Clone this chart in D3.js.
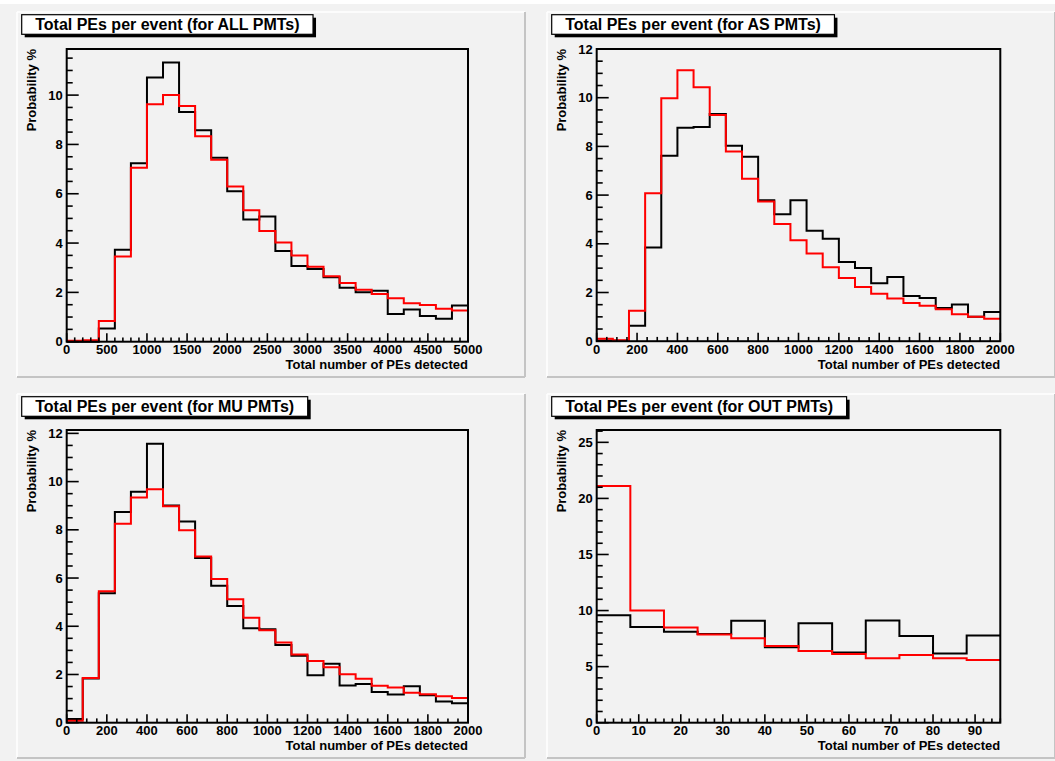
<!doctype html>
<html>
<head>
<script src="https://cdnjs.cloudflare.com/ajax/libs/d3/7.8.5/d3.min.js"></script>
<style>
body { margin: 0; background: #ffffff; }
text { font-family: "Liberation Sans", Arial, sans-serif; font-weight: bold; fill: #000; }
.hist { fill: none; stroke-width: 2px; }
.frame { fill: none; stroke: #000; stroke-width: 2px; }
.tick { stroke: #000; stroke-width: 1.6px; }
</style>
</head>
<body>
<svg id="c" width="1055" height="761"></svg>
<script>
// histogram contents, % per bin
var allBlack = [0.0, 0.0, 0.54, 3.73, 7.24, 10.71, 11.32, 9.32, 8.58, 7.46, 6.10, 4.96, 5.08, 3.68, 3.07, 2.95, 2.61, 2.19, 2.01, 2.07, 1.12, 1.31, 1.04, 0.93, 1.47];
var allRed   = [0.04, 0.06, 0.84, 3.46, 7.05, 9.63, 10.0, 9.56, 8.33, 7.38, 6.29, 5.33, 4.49, 4.02, 3.50, 3.04, 2.65, 2.38, 2.11, 1.93, 1.76, 1.56, 1.49, 1.34, 1.27];

var asBlack = [0.03, 0.02, 0.63, 3.85, 7.62, 8.77, 8.80, 9.33, 8.03, 7.58, 5.79, 5.21, 5.79, 4.54, 4.21, 3.25, 3.01, 2.38, 2.64, 1.86, 1.77, 1.36, 1.51, 1.00, 1.20];
var asRed   = [0.10, 0.04, 1.25, 6.08, 9.98, 11.13, 10.43, 9.29, 7.79, 6.67, 5.74, 4.81, 4.15, 3.60, 3.04, 2.60, 2.23, 1.95, 1.75, 1.57, 1.46, 1.31, 1.11, 1.00, 0.92];

var muBlack = [0.15, 1.83, 5.37, 8.74, 9.58, 11.57, 9.01, 8.35, 6.83, 5.68, 4.84, 3.92, 3.88, 3.22, 2.78, 1.97, 2.44, 1.54, 1.60, 1.27, 1.17, 1.51, 1.14, 0.88, 0.81];
var muRed   = [0.08, 1.85, 5.45, 8.25, 9.34, 9.68, 8.98, 7.98, 6.89, 5.96, 5.12, 4.35, 3.83, 3.33, 2.83, 2.56, 2.30, 2.01, 1.82, 1.53, 1.46, 1.24, 1.18, 1.10, 1.02];

var outBlack = [9.58, 8.54, 8.10, 7.92, 9.08, 6.73, 8.87, 6.25, 9.11, 7.74, 6.16, 7.77];
var outRed   = [21.1, 10.0, 8.48, 7.86, 7.53, 6.85, 6.40, 6.13, 5.74, 6.04, 5.74, 5.60];

var titles = ["Total PEs per event (for ALL PMTs)", "Total PEs per event (for AS PMTs)",
              "Total PEs per event (for MU PMTs)", "Total PEs per event (for OUT PMTs)"];
var binWidths = [200, 80, 80, 8];
var yTitle = "Probability %";
var xTitle = "Total number of PEs detected";

var panels = [
  {title: titles[0], pad: [17, 12, 525, 377], frame: [66.7, 49, 468, 341.7], xMax: 5000, yMax: 11.87,
   xMajor: 500, xMinor: 100, yMajor: 2, yMinor: 0.5, binW: binWidths[0], black: allBlack, red: allRed},
  {title: titles[1], pad: [547, 12, 1055, 377], frame: [596.7, 49, 1000.3, 341.2], xMax: 2000, yMax: 12.0,
   xMajor: 200, xMinor: 50, yMajor: 2, yMinor: 0.5, binW: binWidths[1], black: asBlack, red: asRed},
  {title: titles[2], pad: [17, 394, 525, 758], frame: [66.7, 430, 468, 722.7], xMax: 2000, yMax: 12.14,
   xMajor: 200, xMinor: 50, yMajor: 2, yMinor: 0.5, binW: binWidths[2], black: muBlack, red: muRed},
  {title: titles[3], pad: [547, 394, 1055, 758], frame: [596.7, 430, 1000.3, 722.7], xMax: 96, yMax: 26.1,
   xMajor: 10, xMinor: 2, yMajor: 5, yMinor: 1, binW: binWidths[3], black: outBlack, red: outRed}
];

var svg = d3.select("#c");
svg.append("rect").attr("x", 0).attr("y", 4).attr("width", 1055).attr("height", 757).attr("fill", "#f2f2f2");

panels.forEach(function (p) {
  var g = svg.append("g");
  var px0 = p.pad[0], py0 = p.pad[1], px1 = p.pad[2], py1 = p.pad[3];

  // pad bevel
  g.append("line").attr("x1", px0).attr("y1", py0).attr("x2", px1).attr("y2", py0).attr("stroke", "#ffffff").attr("stroke-width", 1.5);
  g.append("line").attr("x1", px0).attr("y1", py0).attr("x2", px0).attr("y2", py1).attr("stroke", "#ffffff").attr("stroke-width", 1.5);
  g.append("line").attr("x1", px1).attr("y1", py0).attr("x2", px1).attr("y2", py1).attr("stroke", "#c4c4c4").attr("stroke-width", 2);
  g.append("line").attr("x1", px0).attr("y1", py1).attr("x2", px1).attr("y2", py1).attr("stroke", "#c4c4c4").attr("stroke-width", 2);

  var x = d3.scaleLinear().domain([0, p.xMax]).range([p.frame[0], p.frame[2]]);
  var y = d3.scaleLinear().domain([0, p.yMax]).range([p.frame[3], p.frame[1]]);

  // histograms
  function steps(vals) {
    var pts = vals.map(function (v, i) { return [i * p.binW, v]; });
    pts.push([vals.length * p.binW, vals[vals.length - 1]]);
    return pts;
  }
  var line = d3.line().x(function (d) { return x(d[0]); }).y(function (d) { return y(d[1]); }).curve(d3.curveStepAfter);
  g.append("path").attr("class", "hist").attr("stroke", "#000000").attr("d", line(steps(p.black)));
  g.append("path").attr("class", "hist").attr("stroke", "#ff0000").attr("d", line(steps(p.red)));

  // y ticks
  var eps = 1e-6;
  d3.range(0, p.yMax + eps, p.yMinor).forEach(function (v) {
    var major = Math.abs(v / p.yMajor - Math.round(v / p.yMajor)) < eps;
    g.append("line").attr("class", "tick")
      .attr("x1", p.frame[0]).attr("x2", p.frame[0] + (major ? 12 : 6))
      .attr("y1", y(v)).attr("y2", y(v));
    if (major) {
      g.append("text").attr("x", p.frame[0] - 4).attr("y", y(v) + 4.5)
        .attr("text-anchor", "end").style("font-size", "13px").text(Math.round(v));
    }
  });

  // x ticks
  d3.range(0, p.xMax + eps, p.xMinor).forEach(function (v) {
    var major = Math.abs(v / p.xMajor - Math.round(v / p.xMajor)) < eps;
    g.append("line").attr("class", "tick")
      .attr("x1", x(v)).attr("x2", x(v))
      .attr("y1", p.frame[3]).attr("y2", p.frame[3] - (major ? 8.5 : 4.3));
    if (major) {
      g.append("text").attr("x", x(v)).attr("y", p.frame[3] + 12.5)
        .attr("text-anchor", "middle").style("font-size", "13px").text(Math.round(v));
    }
  });

  // frame
  g.append("rect").attr("class", "frame")
    .attr("x", p.frame[0]).attr("y", p.frame[1])
    .attr("width", p.frame[2] - p.frame[0]).attr("height", p.frame[3] - p.frame[1]);

  // axis titles
  g.append("text").attr("x", p.frame[2]).attr("y", p.frame[3] + 27.5)
    .attr("text-anchor", "end").style("font-size", "13px").text(xTitle);
  g.append("text")
    .attr("transform", "translate(" + (p.frame[0] - 30.5) + "," + p.frame[1] + ") rotate(-90)")
    .attr("text-anchor", "end").style("font-size", "13px").text(yTitle);

  // title box with shadow
  var tb = g.append("g");
  var t = tb.append("text").attr("y", py0 + 17.8).style("font-size", "16px").text(p.title);
  var tw = t.node().getComputedTextLength();
  var bx = px0 + 4.7, by = py0 + 2.7, bw = tw + 27, bh = 19.6;
  tb.insert("rect", "text").attr("x", bx + 3).attr("y", by + 3).attr("width", bw).attr("height", bh).attr("fill", "#000");
  tb.insert("rect", "text").attr("x", bx).attr("y", by).attr("width", bw).attr("height", bh)
    .attr("fill", "#ffffff").attr("stroke", "#000").attr("stroke-width", 1.2);
  t.attr("x", bx + bw / 2).attr("text-anchor", "middle");
});
</script>
</body>
</html>
